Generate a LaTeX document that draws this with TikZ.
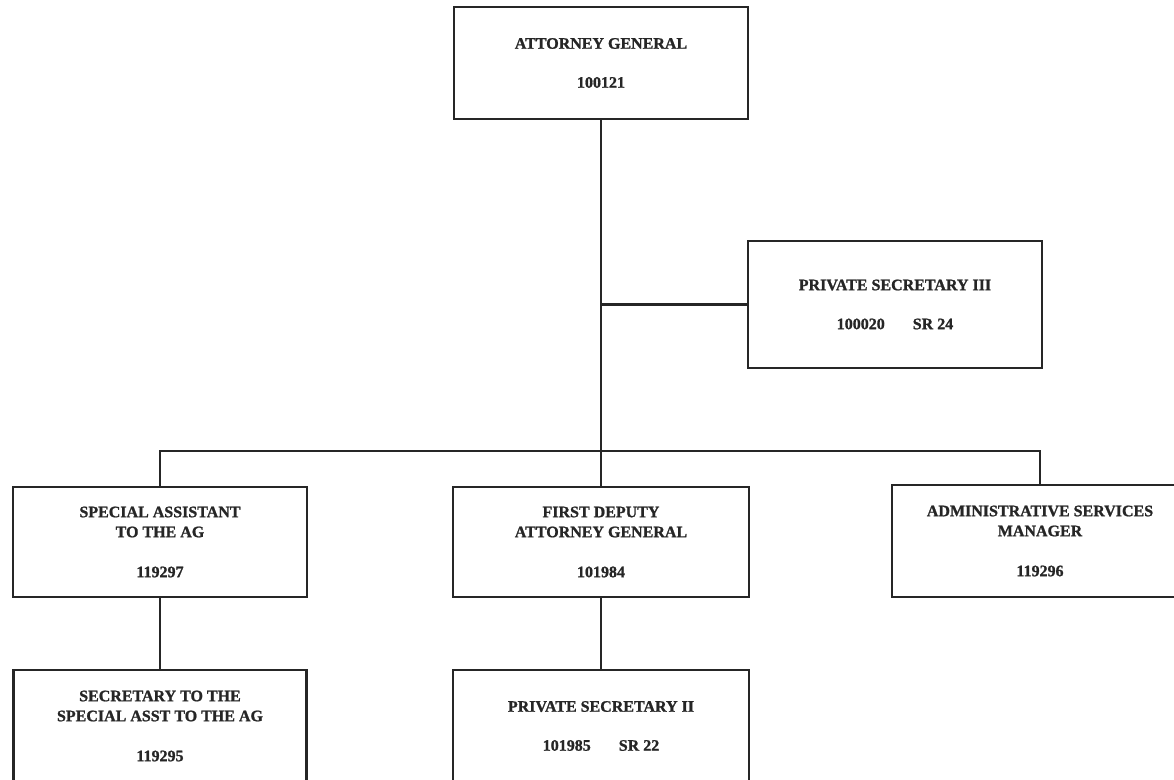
\documentclass[tikz,border=0pt]{standalone}
\usepackage{fontspec}
\setmainfont{Liberation Serif}[FakeBold=1.2]
\begin{document}
\begin{tikzpicture}[x=1pt,y=-1pt,
  post/.style={draw=black!85, line width=2.6pt, rectangle, inner sep=0pt,
    minimum width=294pt, minimum height=110pt, align=center,
    font=\fontsize{16}{20}\selectfont\bfseries, text=black!85},
  link/.style={draw=black!85, line width=2.3pt}]
\useasboundingbox (0,0) rectangle (1174,779);
\clip (0,0) rectangle (1174,779);

% positions and titles
\node[post, minimum height=112pt] (ag) at (601,63)
  {ATTORNEY GENERAL\\[19pt]100121};
\node[post, minimum height=127pt] (ps3) at (895,304.5)
  {PRIVATE SECRETARY III\\[19pt]100020\hspace{28pt}SR 24};
\node[post] (sa) at (160,542)
  {SPECIAL ASSISTANT\\TO THE AG\\[20pt]119297};
\node[post, minimum width=296pt] (fd) at (601,542)
  {FIRST DEPUTY\\ATTORNEY GENERAL\\[20pt]101984};
\node[post, minimum width=296pt, minimum height=112pt] (adm) at (1040,541)
  {ADMINISTRATIVE SERVICES\\MANAGER\\[20pt]119296};
\node[post, minimum width=293pt, minimum height=112pt] (sec) at (160,726)
  {SECRETARY TO THE\\SPECIAL ASST TO THE AG\\[20pt]119295};
\node[post, minimum width=296pt, minimum height=112pt] (ps2) at (601,726)
  {PRIVATE SECRETARY II\\[19pt]101985\hspace{28pt}SR 22};

% reporting lines
\coordinate (bus) at (601,451);
\draw[link] (ag.south) -- (bus);
\draw[link] (ps3.west) -- (ps3.west -| ag.south);
\draw[link] (sa.north) |- (bus) -| (adm.north);
\draw[link] (fd.north) -- (bus);
\draw[link] (sa.south) -- (sec.north);
\draw[link] (fd.south) -- (ps2.north);
\end{tikzpicture}
\end{document}
